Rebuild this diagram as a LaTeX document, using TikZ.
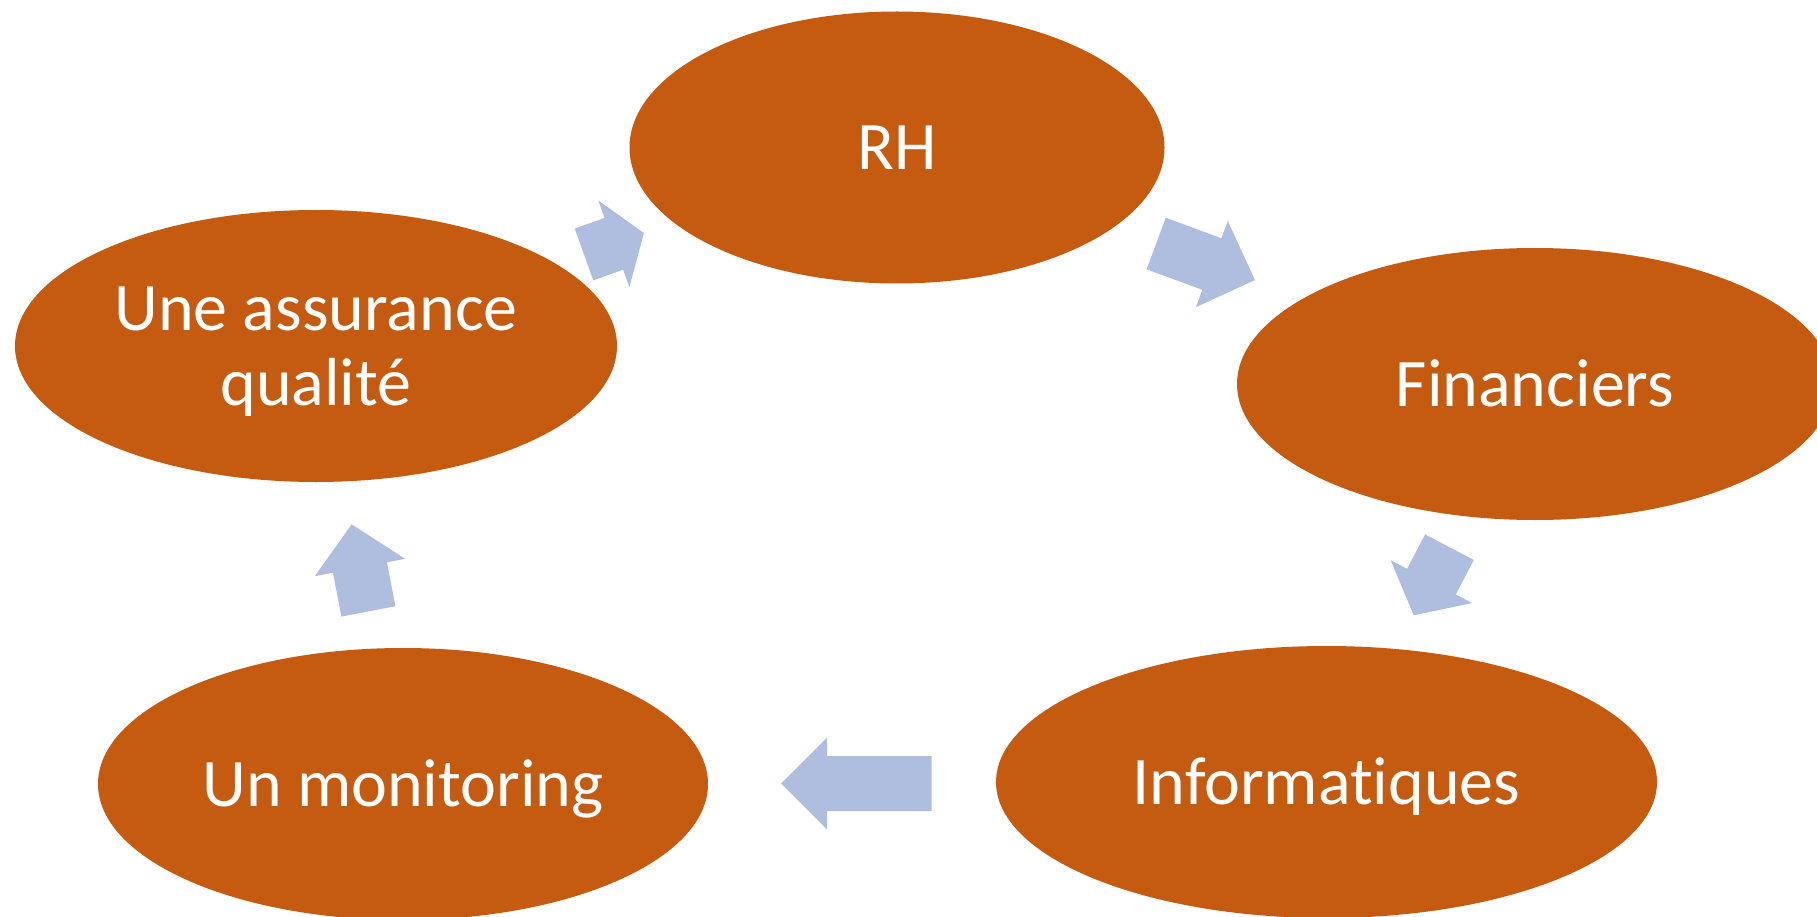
\documentclass[tikz,border=0pt]{standalone}
\usepackage{fontspec}
\setmainfont{Carlito}[Ligatures=NoCommon]
\usetikzlibrary{shapes.geometric}

\definecolor{cycleorange}{HTML}{C55A11}
\definecolor{cycleblue}{HTML}{AFBDDF}

\begin{document}
\begin{tikzpicture}[x=1pt, y=-1pt,
    every node/.style={ellipse, fill=cycleorange, text=white, inner sep=0pt,
      minimum height=272pt, align=center, font=\fontsize{68}{75}\selectfont,
      text height=44pt, text depth=0pt},
    bluearrow/.style={fill=cycleblue}]
  \useasboundingbox (0,0) rectangle (1817,917);
  % the five stages
  \node[minimum width=535pt] (rh) at (897,147.5) {RH};
  \node[minimum width=596pt] (fin) at (1535,384) {Financiers};
  \node[minimum width=661pt] (info) at (1326.5,782) {Informatiques};
  \node[minimum width=610pt] (moni) at (403,784) {Un monitoring};
  \node[minimum width=602pt, text height=119pt] (qual) at (316,346) {Une assurance\\qualité};
  % block arrows: tail x / tail y / angle / length / head length
  \foreach \x/\y/\a/\l/\h in {584/254.5/19.7/63.7/32, 1156.2/243.5/-20.3/105.3/46,
      1449.5/547.2/-117.7/76.9/38, 931.7/783.5/180/150.7/46, 368.4/611.4/100.9/88.7/44}
    \fill[bluearrow, shift={(\x,\y)}, rotate=\a]
      (0,-27.5) -- (\l-\h,-27.5) -- (\l-\h,-46) -- (\l,0) -- (\l-\h,46)
      -- (\l-\h,27.5) -- (0,27.5) -- cycle;
\end{tikzpicture}
\end{document}
